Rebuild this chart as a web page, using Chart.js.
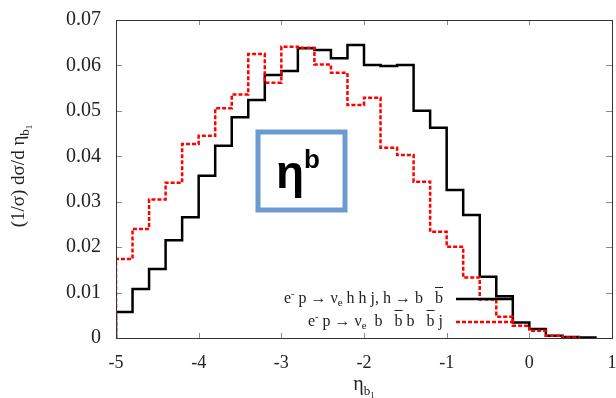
<!DOCTYPE html>
<html>
<head>
<meta charset="utf-8">
<script src="https://cdn.jsdelivr.net/npm/chart.js@4"></script>
<style>
  html, body { margin: 0; padding: 0; background: #fff; }
  #wrap { width: 616px; height: 398px; }
</style>
</head>
<body>
<div id="wrap"><canvas id="c" width="616" height="398"></canvas></div>
<script>
// bin edges (width 0.2) from -5 to 1
const binEdges = [-5, -4.8, -4.6, -4.4, -4.2, -4, -3.8, -3.6, -3.4, -3.2, -3, -2.8, -2.6, -2.4, -2.2, -2,
                  -1.8, -1.6, -1.4, -1.2, -1, -0.8, -0.6, -0.4, -0.2, 0, 0.2, 0.4, 0.6, 0.8, 1];

// e- p -> ve h h j, h -> b bbar
const signalVals = [0.0057, 0.0108, 0.0152, 0.0215, 0.0266, 0.0357, 0.0423, 0.0486, 0.0524, 0.0579,
                    0.0588, 0.0638, 0.0634, 0.0616, 0.0645, 0.0601, 0.0599, 0.0601, 0.0500, 0.0463,
                    0.0326, 0.0271, 0.0135, 0.0092, 0.0034, 0.0020, 0.0005, 0.0002, 0.0001];

// e- p -> ve b bbar b bbar j
const bkgVals = [0.0174, 0.0240, 0.0305, 0.0342, 0.0427, 0.0445, 0.0506, 0.0536, 0.0625, 0.0562,
                 0.0641, 0.0639, 0.0602, 0.0584, 0.0513, 0.0529, 0.0419, 0.0403, 0.0344, 0.0234,
                 0.0201, 0.0133, 0.0085, 0.0047, 0.0027, 0.0016, 0.0005, 0.0001];

const xTicks = [-5, -4, -3, -2, -1, 0, 1];
const yTicks = [0, 0.01, 0.02, 0.03, 0.04, 0.05, 0.06, 0.07];

const SERIF = '"Liberation Serif", "DejaVu Serif", serif';

// histogram -> stepped points
function histPoints(vals) {
    const pts = [{ x: binEdges[0], y: 0 }];
    vals.forEach((v, i) => pts.push({ x: binEdges[i], y: v }));
    pts.push({ x: binEdges[vals.length], y: 0 });
    return pts;
}

// draws text pieces: [text, size, dy]
function drawPieces(ctx, pieces, x, y, align) {
    let total = 0;
    pieces.forEach(p => { ctx.font = p[1] + 'px ' + SERIF; total += ctx.measureText(p[0]).width; });
    let cx = align === 'right' ? x - total : (align === 'center' ? x - total / 2 : x);
    const spans = [];
    pieces.forEach(p => {
        ctx.font = p[1] + 'px ' + SERIF;
        ctx.fillText(p[0], cx, y + (p[2] || 0));
        const w = ctx.measureText(p[0]).width;
        spans.push([cx, w]);
        cx += w;
    });
    return spans;
}

const decorPlugin = {
    id: 'decor',
    afterDatasetsDraw(chart) {
        const ctx = chart.ctx;
        const a = chart.chartArea;
        const xs = chart.scales.x, ys = chart.scales.y;
        ctx.save();

        // inward ticks on all sides
        ctx.strokeStyle = '#8a8a8a';
        ctx.lineWidth = 1;
        ctx.beginPath();
        xTicks.forEach(t => {
            const px = Math.round(xs.getPixelForValue(t)) + 0.5;
            ctx.moveTo(px, a.bottom); ctx.lineTo(px, a.bottom - 5);
            ctx.moveTo(px, a.top); ctx.lineTo(px, a.top + 5);
        });
        yTicks.forEach(t => {
            const py = Math.round(ys.getPixelForValue(t)) + 0.5;
            ctx.moveTo(a.left, py); ctx.lineTo(a.left + 6, py);
            ctx.moveTo(a.right, py); ctx.lineTo(a.right - 6, py);
        });
        ctx.stroke();

        // frame
        ctx.strokeStyle = '#333';
        ctx.strokeRect(Math.round(a.left) + 0.5, Math.round(a.top) + 0.5,
                       Math.round(a.right - a.left), Math.round(a.bottom - a.top));

        // legend
        ctx.fillStyle = '#222';
        ctx.textBaseline = 'middle';
        const ds = chart.data.datasets;
        const LF = 16;
        const rows = [
            { y: 299, set: ds[1], pieces: [['e', LF], ['-', 10, -5], [' p \u2192 \u03bd', LF], ['e', 11, 4], [' h h j, h \u2192 b   b', LF]], bars: [4] },
            { y: 322, set: ds[0], pieces: [['e', LF], ['-', 10, -5], [' p \u2192 \u03bd', LF], ['e', 11, 4], ['  b   b', LF], [' b   b', LF], [' j', LF]], bars: [4, 5] }
        ];
        rows.forEach(r => {
            const spans = drawPieces(ctx, r.pieces, 443, r.y, 'right');
            // overline on the trailing b of chosen pieces
            ctx.strokeStyle = '#222';
            ctx.lineWidth = 1;
            ctx.font = LF + 'px ' + SERIF;
            const bw = ctx.measureText('b').width;
            r.bars.forEach(bi => {
                const s = spans[bi];
                const x1 = s[0] + s[1] - bw;
                ctx.beginPath();
                ctx.moveTo(x1, r.y - 11.5); ctx.lineTo(x1 + bw, r.y - 11.5);
                ctx.stroke();
            });
            ctx.strokeStyle = r.set.borderColor;
            ctx.lineWidth = r.set.borderWidth;
            ctx.setLineDash(r.set.borderDash || []);
            ctx.beginPath();
            ctx.moveTo(456, r.y); ctx.lineTo(512, r.y);
            ctx.stroke();
            ctx.setLineDash([]);
        });

        // axis titles
        ctx.fillStyle = '#222';
        ctx.textBaseline = 'alphabetic';
        drawPieces(ctx, [['\u03b7', 20], ['b', 13, 5], ['1', 9, 8]], 364, 390, 'center');

        ctx.save();
        ctx.translate(24, 176);
        ctx.rotate(-Math.PI / 2);
        drawPieces(ctx, [['(1/\u03c3) d\u03c3/d \u03b7', 19], ['b', 13, 5], ['1', 9, 8]], 0, 0, 'center');
        ctx.restore();

        // eta^b label box
        ctx.strokeStyle = '#6b9bd0';
        ctx.lineWidth = 5;
        ctx.strokeRect(258, 132, 87, 78);
        ctx.fillStyle = '#000';
        ctx.font = 'bold 46px "Liberation Sans", Arial, sans-serif';
        ctx.textBaseline = 'alphabetic';
        ctx.fillText('\u03b7', 276, 188);
        ctx.font = 'bold 26px "Liberation Sans", Arial, sans-serif';
        ctx.fillText('b', 304, 168);

        ctx.restore();
    }
};

new Chart(document.getElementById('c'), {
    type: 'line',
    data: {
        datasets: [
            {
                label: 'e- p -> ve b bbar b bbar j',
                data: histPoints(bkgVals),
                borderColor: '#ff0000',
                borderWidth: 2.5,
                borderDash: [4, 2],
                stepped: 'before',
                pointRadius: 0,
                fill: false
            },
            {
                label: 'e- p -> ve h h j, h -> b bbar',
                data: histPoints(signalVals),
                borderColor: '#000000',
                borderWidth: 2.5,
                stepped: 'before',
                pointRadius: 0,
                fill: false
            }
        ]
    },
    options: {
        responsive: false,
        animation: false,
        layout: { padding: { top: 20, right: 4, left: 0, bottom: 0 } },
        plugins: { legend: { display: false }, tooltip: { enabled: false } },
        scales: {
            x: {
                type: 'linear',
                min: -5, max: 1,
                afterFit(s) { s.height = 60; s.paddingLeft = 0; s.paddingRight = 0; },
                afterBuildTicks(s) { s.ticks = xTicks.map(v => ({ value: v })); },
                grid: { display: false, drawTicks: false },
                border: { display: false },
                ticks: {
                    padding: 14,
                    color: '#222',
                    font: { family: SERIF, size: 18 },
                    callback: v => String(v)
                }
            },
            y: {
                min: 0, max: 0.07,
                afterFit(s) { s.width = 116; s.paddingTop = 0; s.paddingBottom = 0; },
                afterBuildTicks(s) { s.ticks = yTicks.map(v => ({ value: v })); },
                grid: { display: false, drawTicks: false },
                border: { display: false },
                ticks: {
                    padding: 15,
                    color: '#222',
                    font: { family: SERIF, size: 20 },
                    callback: v => v === 0 ? '0' : v.toFixed(2)
                }
            }
        }
    },
    plugins: [decorPlugin]
});
</script>
</body>
</html>
